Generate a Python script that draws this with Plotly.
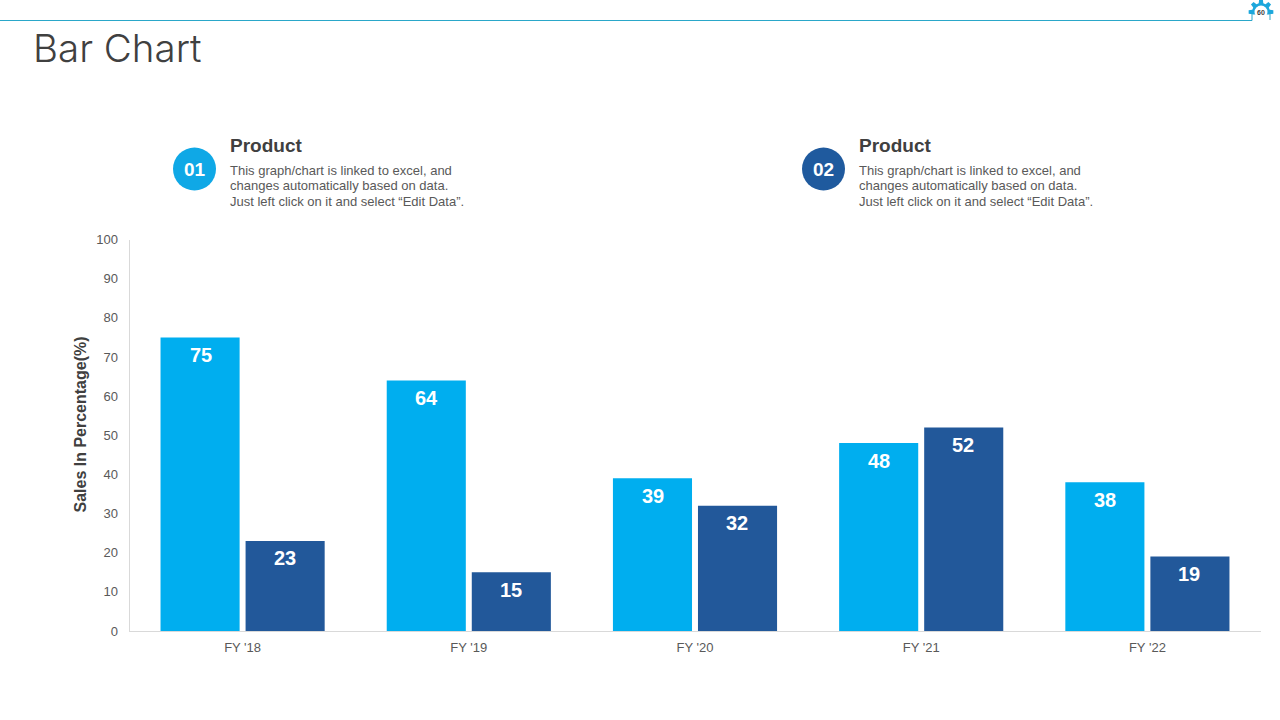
import math
import plotly.graph_objects as go

categories = ["FY '18", "FY '19", "FY '20", "FY '21", "FY '22"]
product_01 = [75, 64, 39, 48, 38]
product_02 = [23, 15, 32, 52, 19]
y_ticks = list(range(0, 101, 10))
C1 = "#00AEEF"
C2 = "#22589A"
W, H = 1280, 720
DESC = ["This graph/chart is linked to excel, and", "changes automatically based on data.",
        "Just left click on it and select “Edit Data”."]


def px(x):
    return x / W


def py(y):
    return 1 - y / H


fig = go.Figure()
fig.add_bar(name="Product 01", x=categories, y=product_01, marker_color=C1, marker_line_width=0, hoverinfo="x+y")
fig.add_bar(name="Product 02", x=categories, y=product_02, marker_color=C2, marker_line_width=0, hoverinfo="x+y")

ann = []
for series, shift in ((product_01, -42), (product_02, 42)):
    for c, v in zip(categories, series):
        ann.append(dict(x=c, y=v, xref="x", yref="y", text=f"<b>{v}</b>", showarrow=False, xshift=shift, yshift=-17.5,
                        yanchor="middle", font=dict(family="Liberation Sans", size=20, color="white")))


def text(x, y, s, size, color, bold=False, family="Liberation Sans", xanchor="left", align="left", weight=None, angle=0):
    font = dict(family=family, size=size, color=color)
    if weight:
        font["weight"] = weight
    ann.append(dict(xref="paper", yref="paper", x=px(x), y=py(y), text=f"<b>{s}</b>" if bold else s, showarrow=False,
                    xanchor=xanchor, yanchor="middle", align=align, textangle=angle, font=font))


text(31, 48, "Bar Chart", 38.5, "#404040", family="Inter", weight=300)
text(80, 424.5, "Sales In Percentage(%)", 16, "#404040", bold=True, xanchor="center", align="center", angle=-90)
for cx, num in ((194.5, "01"), (823.5, "02")):
    text(cx, 169, num, 19, "white", bold=True, xanchor="center", align="center")
    text(cx + 33.5, 146, "Product", 19, "#404040", bold=True)
    for line, ly in zip(DESC, (170, 185.5, 201)):
        text(cx + 33.5, ly, line, 13, "#595959")
text(1260.5, 12, "60", 7, "#404040", bold=True, xanchor="center", align="center")

shapes = []
for cx, col in ((194.5, "#0FA8E6"), (823.5, "#1F5A9E")):
    shapes.append(dict(type="circle", xref="paper", yref="paper", x0=px(cx - 21.5), x1=px(cx + 21.5), y0=py(190.5),
                       y1=py(147.5), fillcolor=col, line_width=0, layer="below"))

# gear badge
pts = []
teeth = 8
for i in range(teeth):
    a = 2 * math.pi * i / teeth
    for da, r in ((-0.26, 9), (-0.15, 12.5), (0.15, 12.5), (0.26, 9)):
        pts.append((1261 + r * math.cos(a + da), 12 + r * math.sin(a + da)))
gear = "M" + " L".join(f"{px(x):.5f},{py(y):.5f}" for x, y in pts) + " Z"
shapes.append(dict(type="path", xref="paper", yref="paper", path=gear, fillcolor="#1CA7DC", line_width=0))
shapes.append(dict(type="circle", xref="paper", yref="paper", x0=px(1254.5), x1=px(1267.5), y0=py(18.5), y1=py(5.5),
                   fillcolor="white", line_width=0))
shapes.append(dict(type="rect", xref="paper", yref="paper", x0=px(1245), x1=px(1278), y0=py(26), y1=py(14.5),
                   fillcolor="white", line_width=0))
TEAL = "#2AA7C9"
for (a, b, c, d) in ((0, 20.5, 1252, 20.5), (1252, 20.5, 1252, 13), (1270, 20, 1270, 13)):
    shapes.append(dict(type="line", xref="paper", yref="paper", x0=px(a), y0=py(b), x1=px(c), y1=py(d),
                       line=dict(color=TEAL, width=1)))

fig.update_layout(
    width=W, height=H, margin=dict(l=0, r=0, t=0, b=0), autosize=False,
    paper_bgcolor="white", plot_bgcolor="white", showlegend=False,
    barmode="group", bargap=0.248, bargroupgap=0.07,
    annotations=ann, shapes=shapes,
    xaxis=dict(domain=[px(129.5), px(1260.5)], anchor="y", showgrid=False, showline=True, linecolor="#D9D9D9", linewidth=1,
               ticks="", ticklabelstandoff=4, tickfont=dict(family="Liberation Sans", size=13, color="#595959"),
               automargin=False),
    yaxis=dict(domain=[py(631), py(239.5)], anchor="x", range=[0, 100], tickvals=y_ticks, showgrid=False, zeroline=False,
               showline=True, linecolor="#D9D9D9", linewidth=1, ticks="", ticklabelstandoff=8, automargin=False,
               tickfont=dict(family="Liberation Sans", size=13, color="#595959")),
)
fig.write_html("out.html", config={"displayModeBar": False},
               post_script="document.body.style.margin='0';document.documentElement.style.overflow='hidden';")
